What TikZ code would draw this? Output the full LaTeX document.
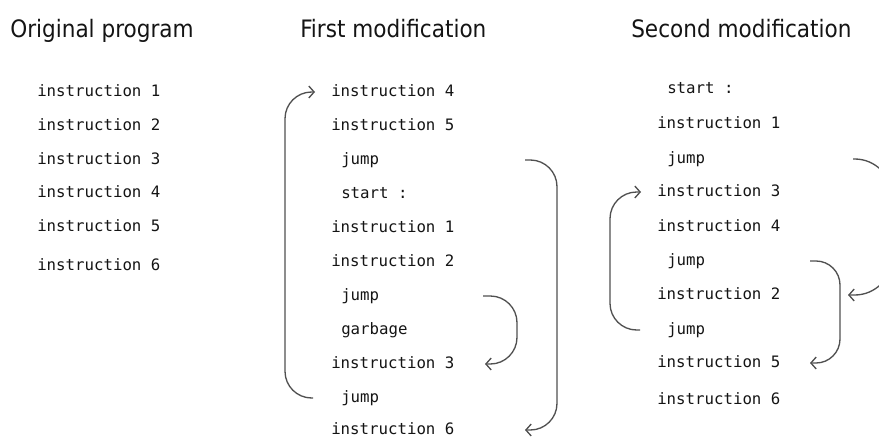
\documentclass[tikz,border=0pt]{standalone}
\usepackage{fontspec}
\setmonofont{DejaVu Sans Mono}
\newfontfamily\headfont{DejaVu Sans Condensed}
\usetikzlibrary{calc, arrows.meta}
\definecolor{ink}{RGB}{20, 20, 20}
\definecolor{wire}{RGB}{80, 80, 80}

\begin{document}
\begin{tikzpicture}[x=0.75pt, y=-0.75pt,
  title/.style={font=\headfont\fontsize{18}{20}\selectfont, text=ink, anchor=base west, inner sep=0},
  code/.style={font=\ttfamily\fontsize{11.8}{13}\selectfont, text=ink, anchor=west, inner sep=0,
    text height=7pt, text depth=0pt},
  jumpto/.style={wire, line width=1pt, rounded corners=#1, -{Straight Barb[length=4pt, width=9pt]}},
  jumpto/.default=20pt]

  \useasboundingbox (0, 0) rectangle (879, 439);

  % headings
  \node[title] (torig) at (10, 37) {Original program};
  \node[title] (tfirst) at (300, 37) {First modification};
  \node[title] (tsecond) at (631, 37) {Second modification};

  % original program
  \node[code] (o1) at (37, 92) {instruction 1};
  \node[code] (o2) at (37, 126) {instruction 2};
  \node[code] (o3) at (37, 160) {instruction 3};
  \node[code] (o4) at (37, 193) {instruction 4};
  \node[code] (o5) at (37, 227) {instruction 5};
  \node[code] (o6) at (37, 266) {instruction 6};

  % first modification
  \node[code] (f1) at (331, 92) {instruction 4};
  \node[code] (f2) at (331, 126) {instruction 5};
  \node[code] (f3) at (341, 160) {jump};
  \node[code] (f4) at (341, 194) {start :};
  \node[code] (f5) at (331, 228) {instruction 1};
  \node[code] (f6) at (331, 262) {instruction 2};
  \node[code] (f7) at (341, 296) {jump};
  \node[code] (f8) at (341, 330) {garbage};
  \node[code] (f9) at (331, 364) {instruction 3};
  \node[code] (f10) at (341, 398) {jump};
  \node[code] (f11) at (331, 430) {instruction 6};

  \draw[jumpto] ($(f10.west)+(-28, 0)$) -| ($(f1.west)+(-46, 0)$) -- ($(f1.west)+(-16, 0)$);
  \draw[jumpto] ($(f3.west)+(184, 0)$) -| ($(f11.west)+(226, 0)$) -- ($(f11.west)+(194, 0)$);
  \draw[jumpto] ($(f7.west)+(142, 0)$) -| ($(f9.west)+(186, 0)$) -- ($(f9.west)+(154, 0)$);

  % second modification
  \node[code] (s1) at (667, 89) {start :};
  \node[code] (s2) at (657, 124) {instruction 1};
  \node[code] (s3) at (667, 159) {jump};
  \node[code] (s4) at (657, 192) {instruction 3};
  \node[code] (s5) at (657, 227) {instruction 4};
  \node[code] (s6) at (667, 261) {jump};
  \node[code] (s7) at (657, 295) {instruction 2};
  \node[code] (s8) at (667, 330) {jump};
  \node[code] (s9) at (657, 363) {instruction 5};
  \node[code] (s10) at (657, 400) {instruction 6};

  \draw[jumpto=28pt] ($(s3.west)+(186, 0)$) -| ($(s7.west)+(235, 0)$) -- ($(s7.west)+(191, 0)$);
  \draw[jumpto=18pt] ($(s6.west)+(143, 0)$) -| ($(s9.west)+(183, 0)$) -- ($(s9.west)+(153, 0)$);
  \draw[jumpto] ($(s8.west)+(-27, 0)$) -| ($(s4.west)+(-47, 0)$) -- ($(s4.west)+(-16, 0)$);

\end{tikzpicture}
\end{document}
